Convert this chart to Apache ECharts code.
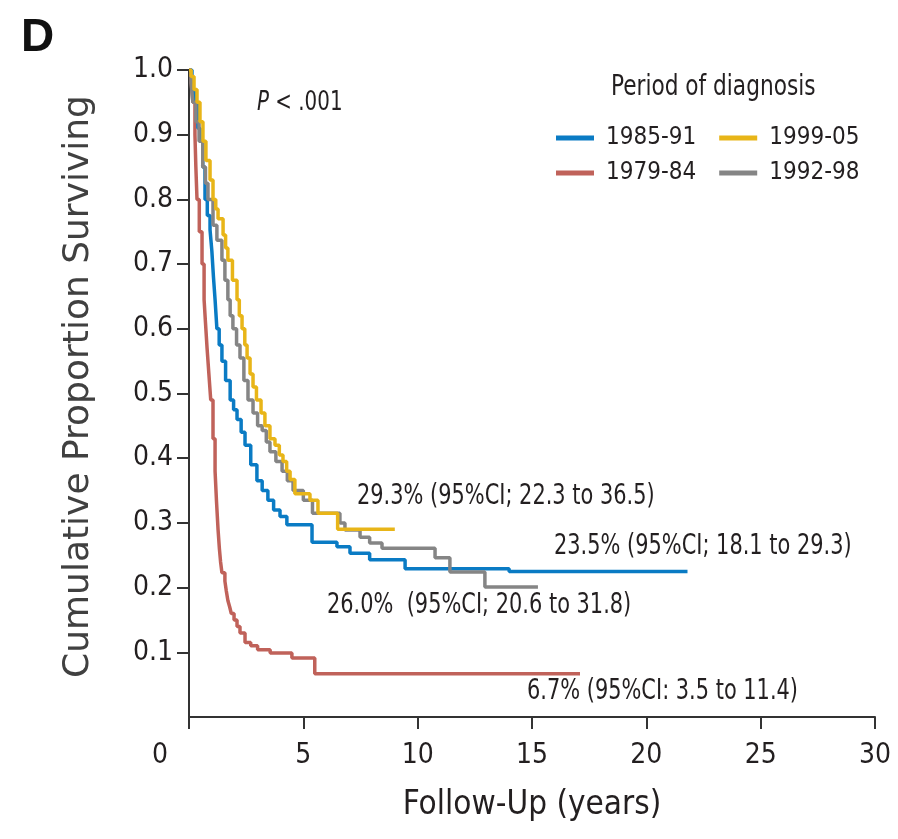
<!DOCTYPE html>
<html>
<head>
<meta charset="utf-8">
<script src="https://cdn.jsdelivr.net/npm/echarts@6/dist/echarts.min.js"></script>
<style>
  html, body { margin: 0; padding: 0; background: #fff; }
  #chart { width: 898px; height: 839px; }
</style>
</head>
<body>
<div id="chart"></div>
<script>
// Kaplan-Meier curves, [years, proportion surviving]
var red1979 = [[0,1.0],[0.1,0.98],[0.17,0.95],[0.26,0.9],[0.3,0.85],[0.35,0.8],[0.45,0.75],[0.57,0.7],[0.66,0.645],[0.72,0.61],[0.79,0.57],[0.87,0.53],[0.95,0.49],[1.05,0.43],[1.14,0.38],[1.2,0.335],[1.27,0.29],[1.33,0.26],[1.38,0.24],[1.44,0.223],[1.57,0.21],[1.63,0.195],[1.7,0.18],[1.78,0.17],[1.85,0.16],[1.97,0.15],[2.1,0.14],[2.23,0.13],[2.45,0.115],[2.7,0.11],[3.0,0.104],[3.55,0.099],[4.5,0.091],[5.5,0.067],[17.1,0.067]];
var blue1985 = [[0,1.0],[0.13,0.97],[0.26,0.95],[0.39,0.91],[0.48,0.89],[0.6,0.85],[0.7,0.8],[0.8,0.775],[0.92,0.753],[1.0,0.72],[1.07,0.68],[1.14,0.645],[1.22,0.6],[1.32,0.575],[1.44,0.55],[1.6,0.52],[1.8,0.49],[1.95,0.475],[2.1,0.46],[2.28,0.44],[2.45,0.42],[2.7,0.39],[2.97,0.365],[3.2,0.35],[3.45,0.335],[3.7,0.32],[3.98,0.31],[4.28,0.297],[5.38,0.27],[6.47,0.263],[7.04,0.253],[7.9,0.243],[9.45,0.229],[14.0,0.225],[21.8,0.225]];
var gray1992 = [[0,1.0],[0.09,0.98],[0.17,0.95],[0.3,0.92],[0.44,0.89],[0.6,0.85],[0.72,0.825],[0.83,0.8],[1.05,0.76],[1.22,0.737],[1.44,0.706],[1.57,0.675],[1.7,0.645],[1.8,0.62],[1.92,0.6],[2.08,0.575],[2.23,0.555],[2.4,0.52],[2.58,0.49],[2.8,0.47],[3.0,0.45],[3.2,0.443],[3.38,0.425],[3.54,0.41],[3.8,0.395],[4.07,0.38],[4.3,0.365],[4.55,0.35],[5.0,0.335],[5.4,0.315],[6.6,0.3],[6.82,0.289],[7.48,0.278],[7.9,0.269],[8.44,0.261],[10.76,0.246],[11.41,0.224],[12.94,0.201],[15.26,0.201]];
var yellow1999 = [[0,1.0],[0.09,0.99],[0.22,0.97],[0.35,0.95],[0.48,0.92],[0.61,0.89],[0.74,0.86],[0.92,0.83],[1.05,0.8],[1.17,0.785],[1.27,0.77],[1.49,0.745],[1.6,0.725],[1.7,0.706],[1.9,0.675],[2.1,0.645],[2.2,0.62],[2.32,0.6],[2.44,0.575],[2.54,0.555],[2.67,0.53],[2.8,0.51],[2.95,0.49],[3.15,0.47],[3.32,0.45],[3.54,0.43],[3.76,0.42],[3.95,0.405],[4.11,0.395],[4.27,0.38],[4.42,0.367],[4.63,0.345],[5.29,0.335],[5.64,0.315],[6.5,0.29],[9.0,0.29]];

var seriesNames = ['1979-84', '1985-91', '1992-98', '1999-05'];
var seriesColors = ['#c0625a', '#0a7bc4', '#858585', '#e8b518'];
var xTicks = [0, 5, 10, 15, 20, 25, 30];
var yTicks = [0.1, 0.2, 0.3, 0.4, 0.5, 0.6, 0.7, 0.8, 0.9, 1.0];
var annotations = [
  '29.3% (95%CI; 22.3 to 36.5)',
  '23.5% (95%CI; 18.1 to 29.3)',
  '26.0%  (95%CI; 20.6 to 31.8)',
  '6.7% (95%CI: 3.5 to 11.4)'
];

var narrow = '"Liberation Sans Narrow", "DejaVu Sans Condensed", sans-serif';
var txt = '#231f20';

var chart = echarts.init(document.getElementById('chart'), null, { renderer: 'canvas' });

var curves = [red1979, blue1985, gray1992, yellow1999];
var series = curves.map(function (d, i) {
  return {
    name: seriesNames[i],
    type: 'line',
    step: 'end',
    data: d,
    symbol: 'none',
    showSymbol: false,
    lineStyle: { color: seriesColors[i], width: 3.5 },
    itemStyle: { color: seriesColors[i] },
    z: 2 + i
  };
});

var legendBase = {
  orient: 'horizontal',
  icon: 'rect',
  itemWidth: 38,
  itemHeight: 5,
  itemGap: 23,
  textStyle: { fontFamily: narrow, fontSize: 24, color: txt, padding: [0, 0, 0, 7] }
};

// condensed text drawn as a graphic, squeezed to the narrow face of the original
function label(text, x, y, size, sx, extra) {
  return Object.assign({
    type: 'text', x: x, y: y, scaleX: sx,
    style: { text: text, fontFamily: narrow, fontSize: size, fill: txt, verticalAlign: 'middle' }
  }, extra || {});
}

var option = {
  animation: false,
  backgroundColor: '#fff',
  grid: { left: 189, right: 23, top: 70, bottom: 122 },
  legend: [
    Object.assign({}, legendBase, { data: ['1985-91', '1999-05'], left: 551, top: 121 }),
    Object.assign({}, legendBase, { data: ['1979-84', '1992-98'], left: 551, top: 156 })
  ],
  xAxis: {
    type: 'value',
    min: 0,
    max: 30,
    interval: 5,
    name: 'Follow-Up (years)',
    nameLocation: 'middle',
    nameGap: 72,
    nameTextStyle: { fontFamily: narrow, fontSize: 33, color: txt },
    axisLine: { show: true, lineStyle: { color: '#333', width: 2 } },
    axisTick: { show: true, length: 12, lineStyle: { color: '#333', width: 2 } },
    splitLine: { show: false },
    axisLabel: {
      margin: 25,
      fontFamily: narrow,
      fontSize: 28,
      color: txt,
      formatter: function (v) {
        return v === xTicks[0] ? '{z|' + v + '}' : String(v);
      },
      rich: { z: { fontFamily: narrow, fontSize: 28, color: txt, padding: [0, 58, 0, 0] } }
    }
  },
  yAxis: {
    type: 'value',
    min: 0,
    max: 1,
    interval: 0.1,
    name: 'Cumulative Proportion Surviving',
    nameLocation: 'middle',
    nameRotate: 90,
    nameGap: 92,
    nameTextStyle: { fontFamily: '"DejaVu Sans", sans-serif', fontSize: 36, color: '#404040', padding: [0, 0, 0, 14] },
    axisLine: { show: true, lineStyle: { color: '#333', width: 2 } },
    axisTick: { show: true, length: 12, lineStyle: { color: '#333', width: 2 } },
    splitLine: { show: false },
    axisLabel: {
      margin: 16,
      showMinLabel: false,
      fontFamily: narrow,
      fontSize: 28,
      color: txt,
      formatter: function (v) { return v.toFixed(1); }
    }
  },
  graphic: [
    { type: 'text', x: 21, y: 38, style: { text: 'D', fontFamily: '"Liberation Sans", Arial, sans-serif', fontWeight: 'bold', fontSize: 46, fill: '#111', verticalAlign: 'middle' } },
    label('{i|P} < .001', 257, 103, 26, 0.85, { style: { text: '{i|P} < .001', fontFamily: narrow, fontSize: 26, fill: txt, verticalAlign: 'middle', rich: { i: { fontStyle: 'italic', fontFamily: narrow, fontSize: 26, fill: txt } } } }),
    label('Period of diagnosis', 611, 88, 28, 0.86),
    label(annotations[0], 357, 497, 28, 0.83),
    label(annotations[1], 554, 547, 28, 0.83),
    label(annotations[2], 327, 606, 28, 0.83),
    label(annotations[3], 527, 692, 28, 0.83)
  ],
  series: series
};

chart.setOption(option);
</script>
</body>
</html>
